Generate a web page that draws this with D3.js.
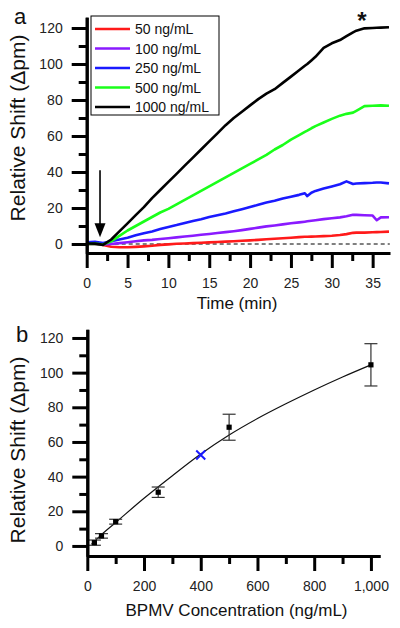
<!DOCTYPE html>
<html><head><meta charset="utf-8">
<script src="https://cdn.jsdelivr.net/npm/d3@7"></script>
<style>
html,body{margin:0;padding:0;background:#fff;}
svg{display:block;font-family:Arial,"Liberation Sans",sans-serif;}
</style></head>
<body>
<svg id="c" width="400" height="628"></svg>
<script>
// ---------- Panel a data ----------
const times = [0,1,2,3,4,5,6,7,8,9,10,11,12,13,14,15,16,17,18,19,20,21,22,23,24,25,26,26.7,27,27.5,28,29,30,31,31.8,32.6,33,34,35,35.5,36,37];
const s50   = [0,0.1,-0.5,-1.5,-1.8,-1.8,-1.6,-1.3,-1,-0.5,-0.2,0.1,0.3,0.5,0.7,0.9,1.1,1.3,1.5,1.8,2,2.3,2.6,2.9,3.2,3.5,3.8,4,4,4.1,4.2,4.4,4.6,5,5.5,6.2,6.3,6.3,6.5,6.6,6.7,6.9];
const s100  = [0,0.1,-0.3,0,0.5,1,1.5,2,2.3,2.8,3.2,3.7,4.2,4.6,5.1,5.6,6.1,6.6,7.1,7.7,8.4,9.1,9.8,10.3,10.9,11.5,12,12.4,12.6,12.9,13.2,13.8,14.3,14.8,15.4,16.2,16.2,16,15.8,13.2,14.8,14.9];
const s250  = [1,1.2,0.5,1.5,2.5,3.5,4.8,6,7,8.3,9.5,10.5,11.7,12.8,13.8,15,16,17,18.2,19.3,20.5,21.8,23,24,25.3,26.3,27.3,28.2,26.6,28.5,29.5,30.8,32,33.2,34.8,33.3,33.6,33.8,34,34.2,34.2,33.7];
const s500  = [0,0.2,-0.3,1.5,4.5,7.5,10,12.5,15,17.5,19.5,22,24.5,27,29.5,32,34.5,37,39.5,42,44.5,47,49.5,52.5,55,58,60.5,62.3,63,64.3,65.5,67.5,69.5,71.3,72.3,73,74,76.6,76.8,76.9,77,76.8];
const s1000 = [0.3,0.2,-0.5,2.5,7,11.5,16,20.5,25.5,30,34.5,39,43.5,48,52.5,57,61.5,66,70,73.5,77,80.5,83.5,86,89.5,93,96.5,99,100,102,104,109,111.5,113.3,115.5,117.6,118.5,119.8,120,120.1,120.2,120.4];
const seriesNames  = ["50 ng/mL","100 ng/mL","250 ng/mL","500 ng/mL","1000 ng/mL"];
const seriesValues = [s50, s100, s250, s500, s1000];
const seriesColors = ["#ff1a1a","#8a1aff","#1a1aff","#1aff1a","#000000"];
const yTicksA = [0,20,40,60,80,100,120];
const xTicksA = [0,5,10,15,20,25,30,35];

// ---------- Panel b data ----------
const conc    = [25,50,100,250,500,1000];
const shift   = [1.9,5.8,14,31,68.5,104.5];
const shiftErr= [1.5,1.3,1.4,3,7.5,12.2];
const fitConc = [15,50,100,200,300,400,500,600,700,800,900,1000];
const fitShift= [1,6.5,13.5,27.5,40.5,53,64,73.5,82,90,97.5,104.5];
const crossConc = [400];
const crossShift = [52.5];
const yTicksB = [0,20,40,60,80,100,120];
const xTicksB = [0,200,400,600,800,1000];

const svg = d3.select("#c");
const AX = 3;
const FONT = "Arial,'Liberation Sans',sans-serif";

function drawAxes(g, x, y, xMaj, xMin, yMaj, yMin, labSize){
  const ya = g.append("g").attr("transform",`translate(${x.range()[0]},0)`)
    .call(d3.axisLeft(y).tickValues(yMaj).tickSize(15).tickSizeOuter(0).tickPadding(9));
  const ym = g.append("g").attr("transform",`translate(${x.range()[0]},0)`)
    .call(d3.axisLeft(y).tickValues(yMin).tickSize(8).tickSizeOuter(0).tickFormat(""));
  const xa = g.append("g").attr("transform",`translate(0,${y.range()[0]})`)
    .call(d3.axisBottom(x).tickValues(xMaj).tickSize(15).tickSizeOuter(0).tickPadding(10));
  const xm = g.append("g").attr("transform",`translate(0,${y.range()[0]})`)
    .call(d3.axisBottom(x).tickValues(xMin).tickSize(8).tickSizeOuter(0).tickFormat(""));
  [ya,ym,xa,xm].forEach(a=>{
    a.attr("font-family",FONT);
    a.selectAll("path.domain").attr("stroke","#000").attr("stroke-width",AX);
    a.selectAll("line").attr("stroke","#000").attr("stroke-width",AX);
    a.selectAll("text").attr("font-size",labSize).attr("fill","#222");
  });
}

// ---------- Panel a ----------
const gA = svg.append("g");
const xA = d3.scaleLinear().domain([0,37.1]).range([86.7,389.8]);
const yA = d3.scaleLinear().domain([-5,126]).range([253,17.2]);

gA.append("line").attr("x1",xA(0)).attr("x2",xA(37.1)).attr("y1",yA(0)).attr("y2",yA(0))
  .attr("stroke","#000").attr("stroke-width",1).attr("stroke-dasharray","4,3");

const lineA = d3.line().x((d,i)=>xA(times[i])).y(d=>yA(d)).curve(d3.curveLinear);
seriesValues.forEach((vals,k)=>{
  gA.append("path").datum(vals).attr("d",lineA).attr("fill","none")
    .attr("stroke",seriesColors[k]).attr("stroke-width",2.6).attr("stroke-linejoin","round");
});

drawAxes(gA, xA, yA, xTicksA, d3.range(2.5,37,5), yTicksA, d3.range(10,130,20), 14);

// arrow
const arrX = xA(1.63);
gA.append("line").attr("x1",arrX).attr("x2",arrX).attr("y1",yA(41)).attr("y2",yA(10))
  .attr("stroke","#000").attr("stroke-width",1.6);
gA.append("path").attr("d",`M${arrX-5.5},${yA(11.5)} L${arrX+5.5},${yA(11.5)} L${arrX},${yA(3.8)} Z`).attr("fill","#000");

// asterisk
gA.append("text").attr("x",xA(33.7)).attr("y",yA(119.5)).attr("text-anchor","middle")
  .attr("font-size",24).attr("font-weight","bold").attr("fill","#111").text("*");

// legend
const leg = gA.append("g");
leg.append("rect").attr("x",91).attr("y",16).attr("width",128).attr("height",99)
  .attr("fill","#fff").attr("stroke","#000").attr("stroke-width",1);
seriesNames.forEach((n,k)=>{
  const yy = 29 + k*19.5;
  leg.append("line").attr("x1",95).attr("x2",130).attr("y1",yy).attr("y2",yy)
    .attr("stroke",seriesColors[k]).attr("stroke-width",2.6);
  leg.append("text").attr("x",135).attr("y",yy+5).attr("font-size",14).attr("fill","#111").text(n);
});

gA.append("text").attr("x",237).attr("y",309).attr("text-anchor","middle").attr("font-size",17).attr("fill","#111").text("Time (min)");
gA.append("text").attr("transform","translate(25,128) rotate(-90)").attr("text-anchor","middle")
  .attr("font-size",21).attr("fill","#111").text("Relative Shift (\u0394pm)");
gA.append("text").attr("x",20).attr("y",24).attr("text-anchor","middle").attr("font-size",22).attr("fill","#111").text("a");

// ---------- Panel b ----------
const gB = svg.append("g");
const xB = d3.scaleLinear().domain([0,1032]).range([87.3,380]);
const yB = d3.scaleLinear().domain([-5.8,125]).range([556,329.3]);

gB.append("path").datum(fitConc.map((c,i)=>[c,fitShift[i]]))
  .attr("d",d3.line().x(d=>xB(d[0])).y(d=>yB(d[1])).curve(d3.curveMonotoneX))
  .attr("fill","none").attr("stroke","#111").attr("stroke-width",1.2);

conc.forEach((c,i)=>{
  const cx = xB(c), top = yB(shift[i]+shiftErr[i]), bot = yB(shift[i]-shiftErr[i]);
  gB.append("line").attr("x1",cx).attr("x2",cx).attr("y1",top).attr("y2",bot).attr("stroke","#333").attr("stroke-width",1.2);
  [top,bot].forEach(yy=>gB.append("line").attr("x1",cx-6.5).attr("x2",cx+6.5).attr("y1",yy).attr("y2",yy).attr("stroke","#333").attr("stroke-width",1.2));
  gB.append("rect").attr("x",cx-2.6).attr("y",yB(shift[i])-2.6).attr("width",5.2).attr("height",5.2).attr("fill","#000");
});

crossConc.forEach((c,i)=>{
  const cx = xB(c), cy = yB(crossShift[i]), r = 4.5;
  gB.append("path").attr("d",`M${cx-r},${cy-r}L${cx+r},${cy+r}M${cx-r},${cy+r}L${cx+r},${cy-r}`)
    .attr("stroke","#1a1aff").attr("stroke-width",2);
});

drawAxes(gB, xB, yB, xTicksB, d3.range(100,1000,200), yTicksB, d3.range(10,130,20), 14);

gB.append("text").attr("x",236.5).attr("y",616).attr("text-anchor","middle").attr("font-size",17).attr("fill","#111").text("BPMV Concentration (ng/mL)");
gB.append("text").attr("transform","translate(25,450) rotate(-90)").attr("text-anchor","middle")
  .attr("font-size",21).attr("fill","#111").text("Relative Shift (\u0394pm)");
gB.append("text").attr("x",22).attr("y",342).attr("text-anchor","middle").attr("font-size",22).attr("fill","#111").text("b");
</script>
</body></html>
